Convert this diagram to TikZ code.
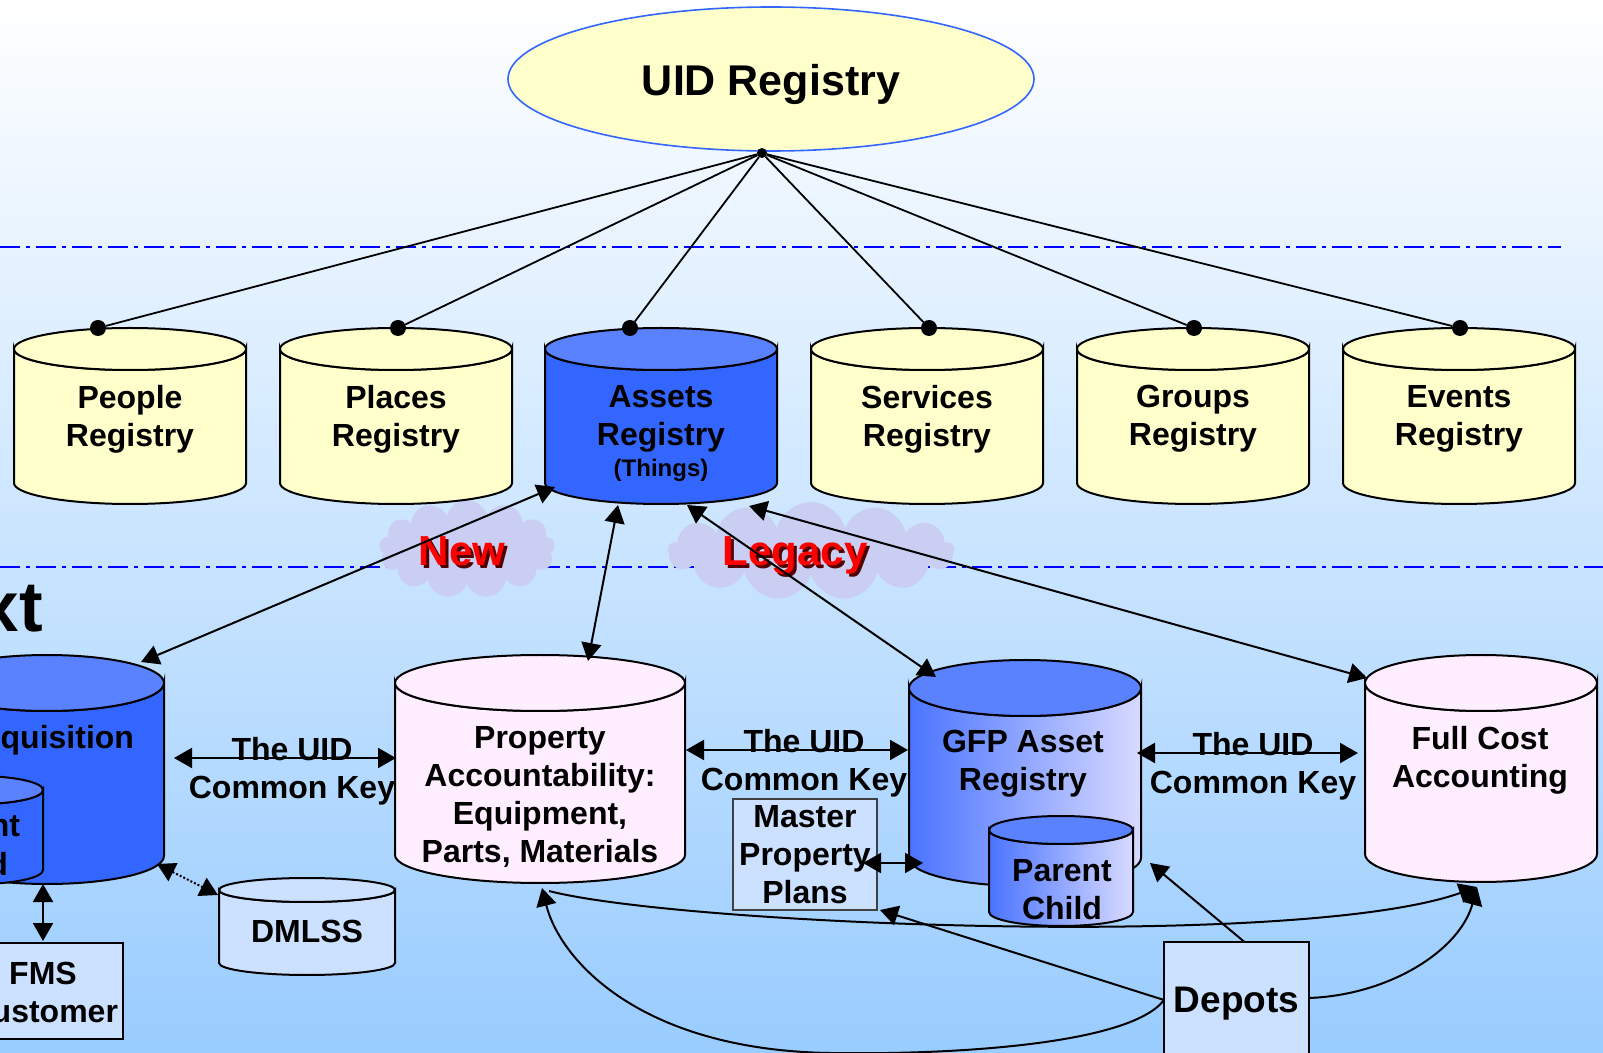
\documentclass[tikz,border=0pt]{standalone}
\usepackage{fontspec}
\setmainfont{Liberation Sans}
\usetikzlibrary{positioning}
\usetikzlibrary{shapes.geometric,shapes.symbols}
\usetikzlibrary{arrows.meta}
\definecolor{regyellow}{HTML}{FFFFCC}
\definecolor{regblue}{HTML}{3366FF}
\definecolor{capblue}{HTML}{5A82FF}
\definecolor{gfpdeep}{HTML}{4A74FF}
\definecolor{gfplight}{HTML}{D8DAFF}
\definecolor{regpink}{HTML}{FFEEFF}
\definecolor{boxblue}{HTML}{CCE0FF}
\definecolor{skyblue}{HTML}{99CCFF}
\definecolor{cloudlilac}{HTML}{CACEF2}
\definecolor{shadowred}{HTML}{500000}
\newcommand{\lbltxt}{\fontsize{16}{19}\selectfont\bfseries}
\newcommand{\regcyl}[8]{%
  \path[cylline,#7] (#2-#5,#3) -- (#2-#5,#4)
    arc[start angle=180,end angle=0,x radius=#5,y radius=#6]
    -- (#2+#5,#3)
    arc[start angle=0,end angle=180,x radius=#5,y radius=#6] -- cycle;
  \path[cylline,#8] (#2,#3) ellipse[x radius=#5,y radius=#6];
  \coordinate (#1) at (#2,#3);
}
\tikzstyle{every node}=[inner sep=0, outer sep=0]
\tikzstyle{cylline}=[draw=black, line width=1pt]
\tikzstyle{lbl}=[font=\lbltxt, align=center, yshift=-1.5pt]
\tikzstyle{layerline}=[draw=blue, line width=0.9pt, dash pattern=on 10pt off 3pt on 2pt off 3pt]
\tikzstyle{hubdot}=[circle, fill=black, minimum size=8pt]
\tikzstyle{hubline}=[line width=0.9pt]
\tikzstyle{link}=[line width=1pt, <->, >={Triangle[length=9pt,width=10pt]}]
\tikzstyle{feed}=[line width=1pt, ->, >={Triangle[length=9pt,width=10pt]}]
\tikzstyle{box}=[draw=black, fill=boxblue, line width=1pt, font=\lbltxt, align=center]
\tikzstyle{puff}=[cloud, cloud puffs=13, fill=cloudlilac, draw=none]
\tikzstyle{redlbl}=[text=red, font=\fontsize{21}{25}\selectfont\bfseries]

\begin{document}
\begin{tikzpicture}[x=0.5pt,y=-0.5pt]
	\useasboundingbox (0,0) rectangle (1603,1053);
	\clip (0,0) rectangle (1603,1053);
	\shade[top color=white,bottom color=skyblue] (0,0) rectangle (1603,1053);
	% layer borders
	\draw[layerline] (0,247) -- (1561,247);
	\draw[layerline] (0,567) -- (1603,567);
	\node[puff,aspect=1.8,minimum width=88pt,minimum height=49pt] (newcloud) at (467,549) {};
	\node[puff,aspect=2.9,minimum width=143pt,minimum height=49pt] (oldcloud) at (811,551) {};
	\node[redlbl,text=shadowred] (new-sh) at (465,554) {New};
	\node[redlbl] (new) at (462,551) {New};
	\node[redlbl,text=shadowred] (legacy-sh) at (798,559) {Legacy};
	\node[redlbl] (legacy) at (795,556) {Legacy};
	\node[anchor=base east,font=\fontsize{35.5}{40}\selectfont\bfseries] (title) at (43,632) {xt};
	% registry hub
	\node[draw=regblue,line width=0.8pt,fill=regyellow,ellipse,minimum width=263pt,minimum height=72pt] (uid) at (771,79) {};
	\node[font=\fontsize{21.5}{26}\selectfont\bfseries] (uid-t) at (771,84) {UID Registry};
	\regcyl{people}{130}{349}{483}{116}{21}{fill=regyellow}{fill=regyellow}
	\regcyl{places}{396}{349}{483}{116}{21}{fill=regyellow}{fill=regyellow}
	\regcyl{assets}{661}{349}{483}{116}{21}{fill=regblue}{fill=capblue}
	\regcyl{services}{927}{349}{483}{116}{21}{fill=regyellow}{fill=regyellow}
	\regcyl{groups}{1193}{349}{483}{116}{21}{fill=regyellow}{fill=regyellow}
	\regcyl{events}{1459}{349}{483}{116}{21}{fill=regyellow}{fill=regyellow}
	\node[lbl] (people-t) at (130,416) {People\\Registry};
	\node[lbl] (places-t) at (396,416) {Places\\Registry};
	\node[lbl] (assets-t) at (661,416) {Assets\\Registry};
	\node[font=\fontsize{12}{14}\selectfont\bfseries] (things) at (661,470) {(Things)};
	\node[lbl] (services-t) at (927,416) {Services\\Registry};
	\node[lbl] (groups-t) at (1193,416) {Groups\\Registry};
	\node[lbl] (events-t) at (1459,416) {Events\\Registry};
	\node[hubdot,minimum size=5pt] (hub) at (762,153) {};
	\node[hubdot] (d1) at (98,328) {};
	\node[hubdot] (d2) at (398,328) {};
	\node[hubdot] (d3) at (630,328) {};
	\node[hubdot] (d4) at (929,328) {};
	\node[hubdot] (d5) at (1194,328) {};
	\node[hubdot] (d6) at (1460,328) {};
	\foreach \i in {1,...,6}
		\draw[hubline] (hub) -- (d\i);
	% lower systems
	\regcyl{acq}{47}{683}{856}{117}{28}{fill=regblue}{fill=capblue}
	\regcyl{inner}{-22}{790}{870}{65}{14}{fill=regblue}{fill=capblue}
	\regcyl{property}{540}{683}{855}{145}{28}{fill=regpink}{fill=regpink}
	\regcyl{gfp}{1025}{688}{858}{116}{28}{left color=gfpdeep,right color=gfplight}{fill=capblue}
	\regcyl{parent}{1061}{830}{912}{72}{14}{left color=gfpdeep,right color=gfplight}{fill=capblue}
	\regcyl{fullcost}{1481}{683}{854}{116}{28}{fill=regpink}{fill=regpink}
	\regcyl{dmlss}{307}{890}{963}{88}{12}{fill=boxblue}{fill=boxblue}
	\node[lbl,anchor=east] (acq-t) at (134,737) {quisition};
	\node[lbl,anchor=base east] (inner-t1) at (20,833) {nt};
	\node[lbl,anchor=base east] (inner-t2) at (8,872) {d};
	\node[lbl] (property-t) at (540,794) {Property\\Accountability:\\Equipment,\\Parts, Materials};
	\node[lbl] (gfp-t) at (1023,761) {GFP Asset\\Registry};
	\node[lbl] (parent-t) at (1062,887) {Parent\\Child};
	\node[lbl] (fullcost-t) at (1480,757) {Full Cost\\Accounting};
	\node[lbl] (dmlss-t) at (307,928) {DMLSS};
	\node[lbl] (key1) at (292,768) {The UID\\Common Key};
	\node[lbl] (key2) at (804,760) {The UID\\Common Key};
	\node[lbl] (key3) at (1253,763) {The UID\\Common Key};
	\node[box,draw=black!75,minimum width=72pt,minimum height=55.5pt] (master) at (805,854.5) {Master\\Property\\Plans};
	\node[box,minimum width=72.5pt,minimum height=62pt,font=\fontsize{18.5}{22}\selectfont\bfseries] (depots) at (1236.5,1004) {Depots};
	\node[box,minimum width=80pt,minimum height=48pt] (fms) at (43,991) {};
	\node[lbl,anchor=base] (fms-t1) at (43,981) {FMS};
	\node[lbl,anchor=base east] (fms-t2) at (118,1019) {ustomer};
	% connector ends
	\coordinate[] (acq-a) at (141,662);
	\coordinate[] (assets-a) at (555,487);
	\coordinate[] (prop-a) at (588,661);
	\coordinate[] (assets-b) at (618,505);
	\coordinate[] (gfp-a) at (936,677);
	\coordinate[] (assets-c) at (687,505);
	\coordinate[] (full-a) at (1367,678);
	\coordinate[] (assets-d) at (749,506);
	\coordinate[] (acq-k) at (174,758);
	\coordinate[] (prop-k) at (396,758);
	\coordinate[] (prop-l) at (686,750);
	\coordinate[] (gfp-k) at (908,750);
	\coordinate[] (gfp-l) at (1137,753);
	\coordinate[] (full-k) at (1358,753);
	\coordinate[] (master-g) at (863,863);
	\coordinate[] (gfp-m) at (923,863);
	\coordinate[] (acq-d) at (157,864);
	\coordinate[] (dmlss-a) at (218,895);
	\coordinate[] (inner-f) at (43,884);
	\coordinate[] (fms-n) at (43,941);
	\coordinate[] (gfp-d) at (1150,863);
	\coordinate[] (master-d) at (880,910);
	\coordinate[] (full-b) at (1477,887);
	\coordinate[] (prop-b) at (542,888);
	\coordinate[] (prop-c) at (549,891);
	\draw[link] (acq-a) -- (assets-a);
	\draw[link] (prop-a) -- (assets-b);
	\draw[link] (gfp-a) -- (assets-c);
	\draw[link] (full-a) -- (assets-d);
	\draw[link] (acq-k) -- (prop-k);
	\draw[link] (prop-l) -- (gfp-k);
	\draw[link] (gfp-l) -- (full-k);
	\draw[link] (master-g) -- (gfp-m);
	\draw[link,densely dotted] (acq-d) -- (dmlss-a);
	\draw[link] (inner-f) -- (fms-n);
	\draw[feed] ([xshift=4pt]depots.north) -- (gfp-d);
	\draw[feed] ([yshift=2pt]depots.west) -- (master-d);
	\draw[feed] ([yshift=2pt]depots.west) .. controls (1130,1045) and (950,1055) .. (830,1053) .. controls (640,1050) and (560,960) .. (prop-b);
	\draw[feed] ([yshift=3pt]depots.east) .. controls (1390,995) and (1460,950) .. (full-b);
	\draw[feed] (prop-c) .. controls (680,925) and (1300,950) .. (full-b);
\end{tikzpicture}
\end{document}
